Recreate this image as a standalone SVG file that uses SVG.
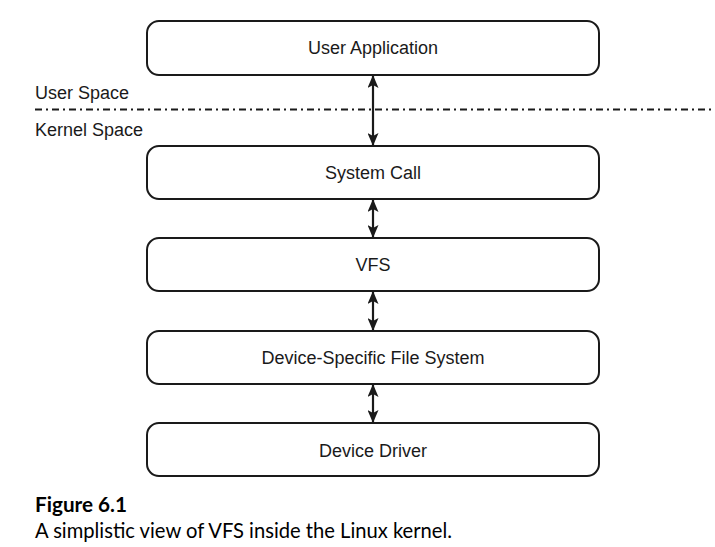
<svg xmlns="http://www.w3.org/2000/svg" width="715" height="547" viewBox="0 0 715 547">
<style>
.box{fill:#fff;stroke:#1a1a1a;stroke-width:2}
.lbl{font-family:"Liberation Sans",Arial,sans-serif;font-size:18px;fill:#1a1a1a;text-anchor:middle}
.side{font-family:"Liberation Sans",Arial,sans-serif;font-size:18px;fill:#1a1a1a}
.conn{stroke:#1a1a1a;stroke-width:2.2;fill:none;marker-start:url(#ah);marker-end:url(#ah)}
.cap{font-family:Lato,"Open Sans",sans-serif;font-size:21px;fill:#000}
</style>
<defs>
<marker id="ah" viewBox="0 0 13 11" refX="12" refY="5.5" markerWidth="13" markerHeight="11" markerUnits="userSpaceOnUse" orient="auto-start-reverse">
<path d="M0,0 L13,5.5 L0,11 L3,5.5 z" fill="#1a1a1a"/>
</marker>
</defs>
<g id="boundary">
<line x1="35" y1="109.5" x2="715" y2="109.5" stroke="#1a1a1a" stroke-width="2" stroke-dasharray="7 4 2 4"/>
<text class="side" x="35" y="99">User Space</text>
<text class="side" x="35" y="136">Kernel Space</text>
</g>
<g id="connectors">
<line class="conn" x1="373" y1="76" x2="373" y2="145"/>
<line class="conn" x1="373" y1="200" x2="373" y2="237"/>
<line class="conn" x1="373" y1="292" x2="373" y2="330"/>
<line class="conn" x1="373" y1="385" x2="373" y2="422"/>
</g>
<g id="user-application">
<rect class="box" x="147" y="21" width="452" height="54" rx="12"/>
<text class="lbl" x="373" y="54">User Application</text>
</g>
<g id="system-call">
<rect class="box" x="147" y="146" width="452" height="53" rx="12"/>
<text class="lbl" x="373" y="179">System Call</text>
</g>
<g id="vfs">
<rect class="box" x="147" y="238" width="452" height="53" rx="12"/>
<text class="lbl" x="373" y="271">VFS</text>
</g>
<g id="device-specific-fs">
<rect class="box" x="147" y="331" width="452" height="53" rx="12"/>
<text class="lbl" x="373" y="364">Device-Specific File System</text>
</g>
<g id="device-driver">
<rect class="box" x="147" y="423" width="452" height="53" rx="12"/>
<text class="lbl" x="373" y="457">Device Driver</text>
</g>
<g id="caption">
<text class="cap" x="35" y="512" font-weight="bold" textLength="92" lengthAdjust="spacingAndGlyphs">Figure 6.1</text>
<text class="cap" x="35" y="538" textLength="417" lengthAdjust="spacingAndGlyphs">A simplistic view of VFS inside the Linux kernel.</text>
</g>
</svg>
